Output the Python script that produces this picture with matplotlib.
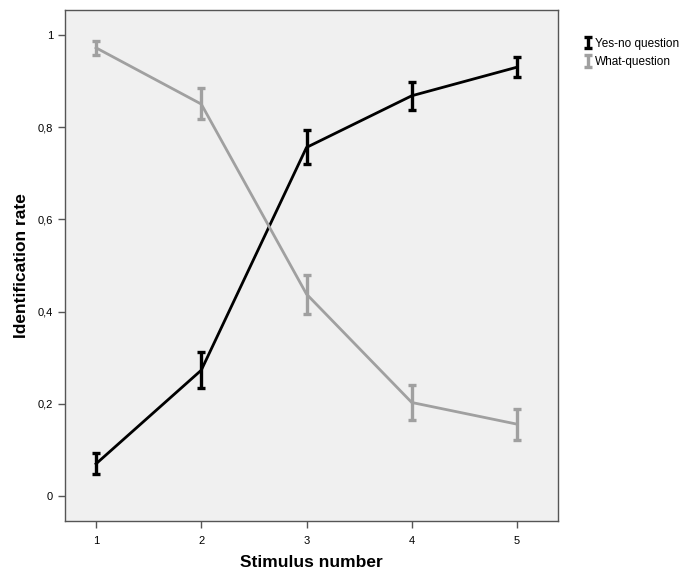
import matplotlib

matplotlib.use("Agg")

import matplotlib.pyplot as plt

plt.rcParams["font.family"] = ["Liberation Sans", "DejaVu Sans"]

stimulus = [1, 2, 3, 4, 5]
yes_no = [0.070, 0.273, 0.756, 0.868, 0.930]
yes_no_low = [0.048, 0.234, 0.720, 0.838, 0.909]
yes_no_high = [0.093, 0.313, 0.793, 0.898, 0.952]
what_q = [0.972, 0.850, 0.438, 0.203, 0.156]
what_q_low = [0.956, 0.817, 0.394, 0.166, 0.121]
what_q_high = [0.986, 0.884, 0.480, 0.240, 0.189]
y_ticks = [0, 0.2, 0.4, 0.6, 0.8, 1.0]
y_tick_labels = ["0", "0,2", "0,4", "0,6", "0,8", "1"]

BLACK = "#000000"
GREY = "#A0A0A0"
EDGE = "#555555"


def err(vals, low, high):
    return [[v - l for v, l in zip(vals, low)], [h - v for v, h in zip(vals, high)]]


fig = plt.figure(figsize=(6.96, 5.75), dpi=100)
ax = fig.add_axes([65 / 696, 1 - 521 / 575, 493 / 696, 511 / 575])
ax.set_facecolor("#F0F0F0")

ax.plot(stimulus, yes_no, color=BLACK, lw=2)
ax.plot(stimulus, what_q, color=GREY, lw=2)
h1 = ax.errorbar(stimulus, yes_no, yerr=err(yes_no, yes_no_low, yes_no_high),
                 fmt="none", ecolor=BLACK, elinewidth=2.4, capsize=2.6, capthick=2.4)
h2 = ax.errorbar(stimulus, what_q, yerr=err(what_q, what_q_low, what_q_high),
                 fmt="none", ecolor=GREY, elinewidth=2.4, capsize=2.6, capthick=2.4)

ax.set_xlim(0.705, 5.39)
ax.set_ylim(-0.054, 1.054)
ax.set_xticks(stimulus)
ax.set_yticks(y_ticks)
ax.set_yticklabels(y_tick_labels)
ax.tick_params(direction="out", length=5, width=1, color=EDGE, labelsize=8)
ax.tick_params(axis="x", pad=6)
ax.tick_params(axis="y", pad=3.5)
for s in ax.spines.values():
    s.set_color(EDGE)
    s.set_linewidth(1)

ax.set_xlabel("Stimulus number", fontsize=12.5, fontweight="bold", labelpad=6)
ax.set_ylabel("Identification rate", fontsize=12.5, fontweight="bold", labelpad=6)

fig.legend([h1, h2], ["Yes-no question", "What-question"], loc="upper left",
           bbox_to_anchor=(580 / 696, 1 - 33 / 575), frameon=False, fontsize=8.5,
           handlelength=0.5, handletextpad=0.4, labelspacing=0.55, borderaxespad=0)

fig.savefig("out.png", dpi=100)
